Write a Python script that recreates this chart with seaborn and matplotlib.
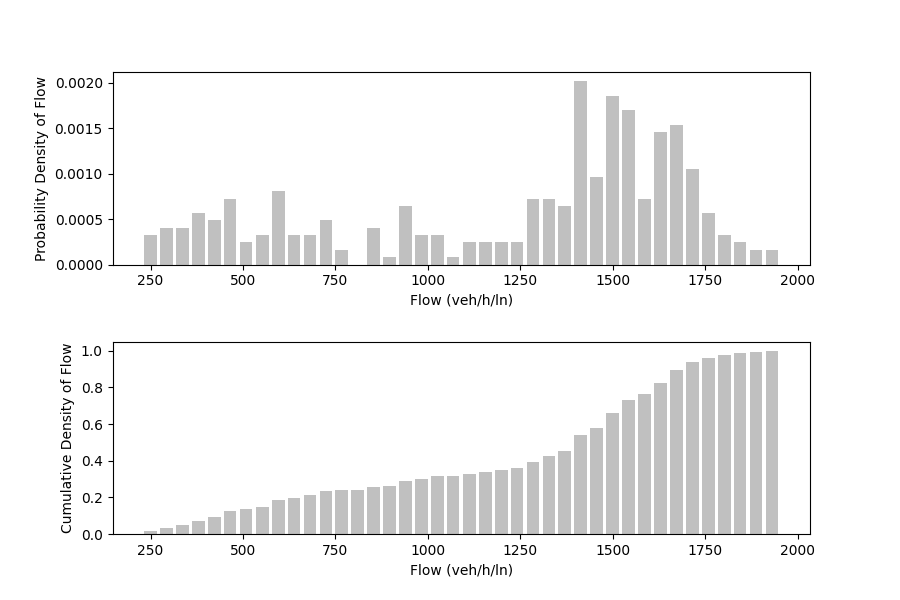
import matplotlib
matplotlib.use("Agg")
import matplotlib.pyplot as plt
import seaborn as sns
import pandas as pd

flow_bins = [250, 293, 336, 379, 422, 465, 508, 552, 595, 638,
             681, 724, 767, 810, 853, 896, 939, 982, 1025, 1068,
             1112, 1155, 1198, 1241, 1284, 1327, 1370, 1413, 1456, 1499,
             1542, 1585, 1628, 1672, 1715, 1758, 1801, 1844, 1887, 1930]

pdf_values = [0.000322, 0.000403, 0.000403, 0.000564, 0.000484, 0.000725, 0.000242, 0.000322, 0.000806, 0.000322,
              0.000322, 0.000484, 0.000161, 0.0, 0.000403, 0.0000806, 0.000645, 0.000322, 0.000322, 0.0000806,
              0.000242, 0.000242, 0.000242, 0.000250, 0.000725, 0.000725, 0.000645, 0.002015, 0.000967, 0.001854,
              0.001693, 0.000725, 0.001451, 0.001532, 0.001048, 0.000564, 0.000322, 0.000242, 0.000161, 0.000161]

cdf_values = [0.014, 0.031, 0.049, 0.073, 0.094, 0.125, 0.135, 0.149, 0.184, 0.198,
              0.212, 0.233, 0.240, 0.240, 0.257, 0.260, 0.288, 0.302, 0.316, 0.319,
              0.330, 0.340, 0.351, 0.361, 0.392, 0.424, 0.451, 0.538, 0.580, 0.660,
              0.733, 0.764, 0.826, 0.892, 0.938, 0.962, 0.976, 0.986, 0.993, 1.000]

df = pd.DataFrame({"flow": flow_bins, "pdf": pdf_values, "cdf": cdf_values})

fig, (ax1, ax2) = plt.subplots(2, 1, figsize=(9, 6), dpi=100)
fig.subplots_adjust(hspace=0.4)

sns.barplot(data=df, x="flow", y="pdf", native_scale=True, color="silver",
            saturation=1, width=0.8, linewidth=0, errorbar=None, ax=ax1)
sns.barplot(data=df, x="flow", y="cdf", native_scale=True, color="silver",
            saturation=1, width=0.8, linewidth=0, errorbar=None, ax=ax2)

ax1.set_xlabel("Flow (veh/h/ln)")
ax1.set_ylabel("Probability Density of Flow")
ax2.set_xlabel("Flow (veh/h/ln)")
ax2.set_ylabel("Cumulative Density of Flow")

fig.savefig("out.png", dpi=100)
